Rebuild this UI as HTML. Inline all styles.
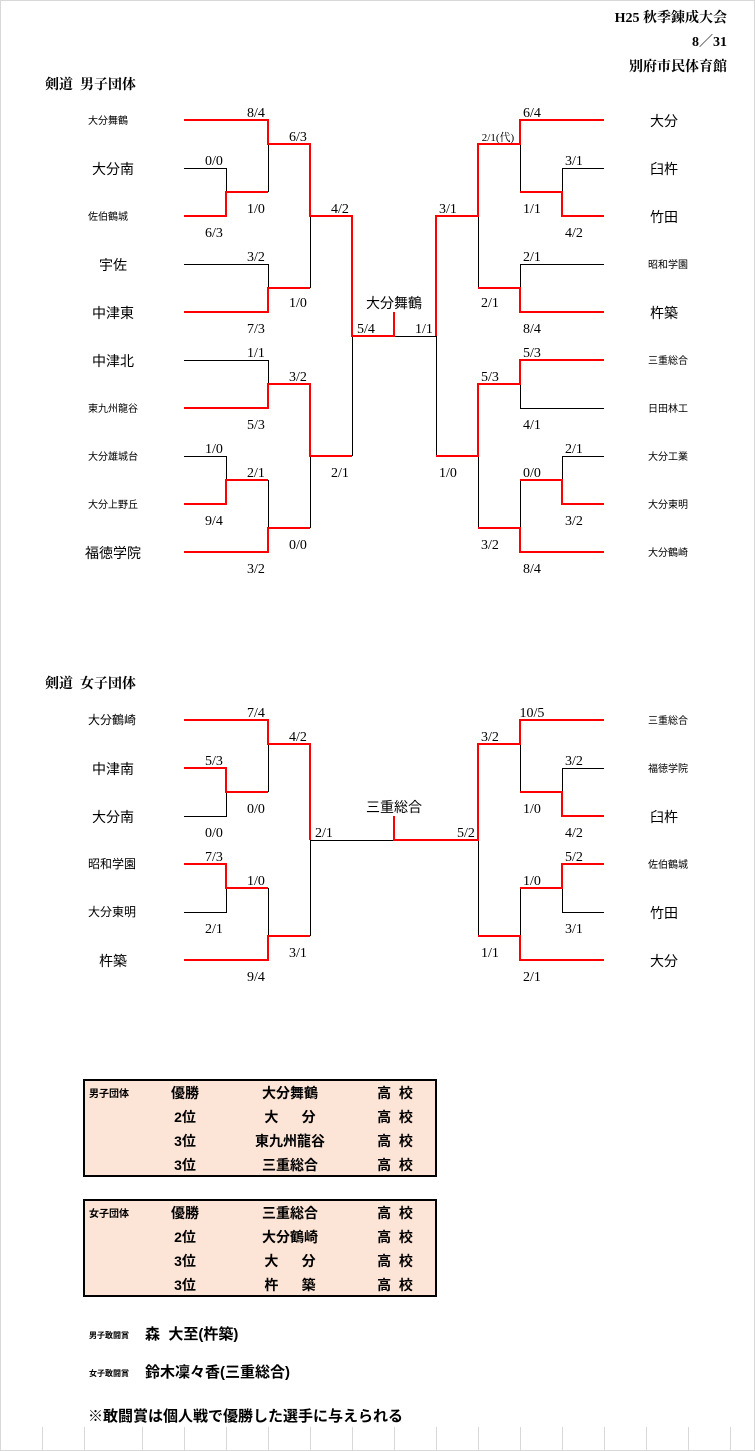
<!DOCTYPE html>
<html><head><meta charset="utf-8"><style>
html,body{margin:0;padding:0;background:#fff}
svg{display:block}
.s{font-family:"Liberation Serif","Noto Serif CJK SC",serif;font-size:14px;fill:#000}
.n{font-family:"Liberation Sans","Noto Sans CJK JP",sans-serif;font-size:14px;fill:#000}
.sm{font-family:"Liberation Sans","Noto Sans CJK JP",sans-serif;font-size:10px;fill:#000}
.b{font-family:"Liberation Serif","Noto Serif CJK JP",serif;font-weight:bold;font-size:14px;fill:#000}
.r{stroke:#f00;stroke-width:2;fill:none}
.k{stroke:#000;stroke-width:1;fill:none}
</style></head><body>
<svg width="755" height="1451" viewBox="0 0 755 1451" xmlns="http://www.w3.org/2000/svg">
<rect x="0.5" y="0.5" width="754" height="1450" fill="#fff" stroke="#d8d8d8"/>
<g stroke="#d8d8d8" stroke-width="1">
<line x1="42.5" y1="1427" x2="42.5" y2="1451"/><line x1="84.5" y1="1427" x2="84.5" y2="1451"/><line x1="142.5" y1="1427" x2="142.5" y2="1451"/><line x1="184.5" y1="1427" x2="184.5" y2="1451"/><line x1="226.5" y1="1427" x2="226.5" y2="1451"/><line x1="268.5" y1="1427" x2="268.5" y2="1451"/><line x1="310.5" y1="1427" x2="310.5" y2="1451"/><line x1="352.5" y1="1427" x2="352.5" y2="1451"/><line x1="394.5" y1="1427" x2="394.5" y2="1451"/><line x1="436.5" y1="1427" x2="436.5" y2="1451"/><line x1="478.5" y1="1427" x2="478.5" y2="1451"/><line x1="520.5" y1="1427" x2="520.5" y2="1451"/><line x1="562.5" y1="1427" x2="562.5" y2="1451"/><line x1="604.5" y1="1427" x2="604.5" y2="1451"/><line x1="646.5" y1="1427" x2="646.5" y2="1451"/><line x1="688.5" y1="1427" x2="688.5" y2="1451"/><line x1="730.5" y1="1427" x2="730.5" y2="1451"/>
</g>

<text class="b" x="727" y="22" text-anchor="end">H25 秋季錬成大会</text>
<text class="b" x="727" y="46" text-anchor="end">8／31</text>
<text class="b" x="727" y="71" text-anchor="end">別府市民体育館</text>
<text class="b" x="45" y="89">剣道&#160;&#160;男子団体</text>
<text class="b" x="45" y="688">剣道&#160;&#160;女子団体</text>

<!-- MEN black -->
<g class="k">
<path d="M184 168.5H226.5V192"/>
<path d="M268.5 144V192"/>
<path d="M184 264.5H268.5V288"/>
<path d="M310.5 216V288"/>
<path d="M184 360.5H268.5V384"/>
<path d="M184 456.5H226.5V480"/>
<path d="M268.5 480V528"/>
<path d="M310.5 456V528"/>
<path d="M352.5 336V456"/>
<path d="M394 336.5H436"/>
<path d="M604 168.5H562.5V192"/>
<path d="M520.5 144V192"/>
<path d="M604 264.5H520.5V288"/>
<path d="M478.5 216V288"/>
<path d="M604 408.5H520.5V384"/>
<path d="M604 456.5H562.5V480"/>
<path d="M520.5 480V528"/>
<path d="M478.5 456V528"/>
<path d="M436.5 336V456"/>
</g>
<!-- MEN red -->
<g class="r">
<path d="M184 120H268V144H310V216H352V336H394V312"/>
<path d="M184 216H226V192H268"/>
<path d="M184 312H268V288H310"/>
<path d="M184 408H268V384H310V456H352"/>
<path d="M184 504H226V480H268"/>
<path d="M184 552H268V528H310"/>
<path d="M604 120H520V144H478V216H436V336"/>
<path d="M604 216H562V192H520"/>
<path d="M604 312H520V288H478"/>
<path d="M604 360H520V384H478V456H436"/>
<path d="M604 504H562V480H520"/>
<path d="M604 552H520V528H478"/>
</g>

<g class="sm">
<text x="88" y="124">大分舞鶴</text>
<text x="88" y="220">佐伯鶴城</text>
<text x="88" y="412">東九州龍谷</text>
<text x="88" y="460">大分雄城台</text>
<text x="88" y="508">大分上野丘</text>
<text x="648" y="268">昭和学園</text>
<text x="648" y="364">三重総合</text>
<text x="648" y="412">日田林工</text>
<text x="648" y="460">大分工業</text>
<text x="648" y="508">大分東明</text>
<text x="648" y="556">大分鶴崎</text>
</g>
<g class="n" text-anchor="middle">
<text x="113" y="174">大分南</text>
<text x="113" y="270">宇佐</text>
<text x="113" y="318">中津東</text>
<text x="113" y="366">中津北</text>
<text x="113" y="558">福徳学院</text>
<text x="664" y="126">大分</text>
<text x="664" y="174">臼杵</text>
<text x="664" y="222">竹田</text>
<text x="664" y="318">杵築</text>
<text x="394" y="308">大分舞鶴</text>
</g>
<g class="s" text-anchor="middle">
<text x="256" y="117">8/4</text>
<text x="298" y="141">6/3</text>
<text x="214" y="165">0/0</text>
<text x="256" y="213">1/0</text>
<text x="214" y="237">6/3</text>
<text x="256" y="261">3/2</text>
<text x="298" y="307">1/0</text>
<text x="256" y="333">7/3</text>
<text x="340" y="213">4/2</text>
<text x="366" y="333">5/4</text>
<text x="424" y="333">1/1</text>
<text x="256" y="357">1/1</text>
<text x="298" y="381">3/2</text>
<text x="256" y="429">5/3</text>
<text x="214" y="453">1/0</text>
<text x="256" y="477">2/1</text>
<text x="214" y="525">9/4</text>
<text x="298" y="549">0/0</text>
<text x="256" y="573">3/2</text>
<text x="340" y="477">2/1</text>
<text x="532" y="117">6/4</text>
<text x="498" y="141" style="font-size:11px">2/1(代)</text>
<text x="574" y="165">3/1</text>
<text x="532" y="213">1/1</text>
<text x="574" y="237">4/2</text>
<text x="448" y="213">3/1</text>
<text x="532" y="261">2/1</text>
<text x="490" y="307">2/1</text>
<text x="532" y="333">8/4</text>
<text x="532" y="357">5/3</text>
<text x="490" y="381">5/3</text>
<text x="532" y="429">4/1</text>
<text x="448" y="477">1/0</text>
<text x="574" y="453">2/1</text>
<text x="532" y="477">0/0</text>
<text x="574" y="525">3/2</text>
<text x="490" y="549">3/2</text>
<text x="532" y="573">8/4</text>
</g>

<!-- WOMEN -->
<g class="k">
<path d="M268.5 744V792"/>
<path d="M184 816.5H226.5V792"/>
<path d="M310 840.5H394"/>
<path d="M184 912.5H226.5V888"/>
<path d="M268.5 888V936"/>
<path d="M310.5 840V936"/>
<path d="M604 768.5H562.5V792"/>
<path d="M520.5 744V792"/>
<path d="M604 912.5H562.5V888"/>
<path d="M520.5 888V936"/>
<path d="M478.5 840V936"/>
</g>
<g class="r">
<path d="M184 720H268V744H310V840"/>
<path d="M184 768H226V792H268"/>
<path d="M184 864H226V888H268"/>
<path d="M184 960H268V936H310"/>
<path d="M394 816V840H478V744H520V720H604"/>
<path d="M604 816H562V792H520"/>
<path d="M604 864H562V888H520"/>
<path d="M604 960H520V936H478"/>
</g>
<g class="sm" style="font-size:12px">
<text x="88" y="724">大分鶴崎</text>
<text x="88" y="868">昭和学園</text>
<text x="88" y="916">大分東明</text>
</g>
<g class="sm">
<text x="648" y="724">三重総合</text>
<text x="648" y="772">福徳学院</text>
<text x="648" y="868">佐伯鶴城</text>
</g>
<g class="n" text-anchor="middle">
<text x="113" y="774">中津南</text>
<text x="113" y="822">大分南</text>
<text x="113" y="966">杵築</text>
<text x="664" y="822">臼杵</text>
<text x="664" y="918">竹田</text>
<text x="664" y="966">大分</text>
<text x="394" y="812">三重総合</text>
</g>
<g class="s" text-anchor="middle">
<text x="256" y="717">7/4</text>
<text x="298" y="741">4/2</text>
<text x="214" y="765">5/3</text>
<text x="256" y="813">0/0</text>
<text x="214" y="837">0/0</text>
<text x="214" y="861">7/3</text>
<text x="256" y="885">1/0</text>
<text x="214" y="933">2/1</text>
<text x="298" y="957">3/1</text>
<text x="256" y="981">9/4</text>
<text x="324" y="837">2/1</text>
<text x="466" y="837">5/2</text>
<text x="490" y="741">3/2</text>
<text x="532" y="717">10/5</text>
<text x="574" y="765">3/2</text>
<text x="532" y="813">1/0</text>
<text x="574" y="837">4/2</text>
<text x="574" y="861">5/2</text>
<text x="532" y="885">1/0</text>
<text x="574" y="933">3/1</text>
<text x="490" y="957">1/1</text>
<text x="532" y="981">2/1</text>
</g>

<!-- result tables -->
<rect x="84" y="1080" width="352" height="96" fill="#fce4d6" stroke="#000" stroke-width="2"/>
<rect x="84" y="1200" width="352" height="96" fill="#fce4d6" stroke="#000" stroke-width="2"/>
<g class="b" style="font-family:'Liberation Sans','Noto Sans CJK JP',sans-serif">
<text x="89" y="1097" style="font-size:10px">男子団体</text>
<text x="185" y="1098" text-anchor="middle">優勝</text>
<text x="185" y="1122" text-anchor="middle">2位</text>
<text x="185" y="1146" text-anchor="middle">3位</text>
<text x="185" y="1170" text-anchor="middle">3位</text>
<text x="290" y="1098" text-anchor="middle">大分舞鶴</text>
<text x="290" y="1122" text-anchor="middle">大&#160;&#160;&#160;&#160;&#160;&#160;分</text>
<text x="290" y="1146" text-anchor="middle">東九州龍谷</text>
<text x="290" y="1170" text-anchor="middle">三重総合</text>
<text x="395" y="1098" text-anchor="middle">高&#160;&#160;校</text>
<text x="395" y="1122" text-anchor="middle">高&#160;&#160;校</text>
<text x="395" y="1146" text-anchor="middle">高&#160;&#160;校</text>
<text x="395" y="1170" text-anchor="middle">高&#160;&#160;校</text>

<text x="89" y="1217" style="font-size:10px">女子団体</text>
<text x="185" y="1218" text-anchor="middle">優勝</text>
<text x="185" y="1242" text-anchor="middle">2位</text>
<text x="185" y="1266" text-anchor="middle">3位</text>
<text x="185" y="1290" text-anchor="middle">3位</text>
<text x="290" y="1218" text-anchor="middle">三重総合</text>
<text x="290" y="1242" text-anchor="middle">大分鶴崎</text>
<text x="290" y="1266" text-anchor="middle">大&#160;&#160;&#160;&#160;&#160;&#160;分</text>
<text x="290" y="1290" text-anchor="middle">杵&#160;&#160;&#160;&#160;&#160;&#160;築</text>
<text x="395" y="1218" text-anchor="middle">高&#160;&#160;校</text>
<text x="395" y="1242" text-anchor="middle">高&#160;&#160;校</text>
<text x="395" y="1266" text-anchor="middle">高&#160;&#160;校</text>
<text x="395" y="1290" text-anchor="middle">高&#160;&#160;校</text>

<text x="89" y="1338" style="font-size:8px">男子敢闘賞</text>
<text x="145" y="1339" style="font-size:15px">森&#160;&#160;大至(杵築)</text>
<text x="89" y="1376" style="font-size:8px">女子敢闘賞</text>
<text x="145" y="1377" style="font-size:15px">鈴木凜々香(三重総合)</text>
<text x="88" y="1421" style="font-size:15px">※敢闘賞は個人戦で優勝した選手に与えられる</text>
</g>
</svg>
</body></html>
